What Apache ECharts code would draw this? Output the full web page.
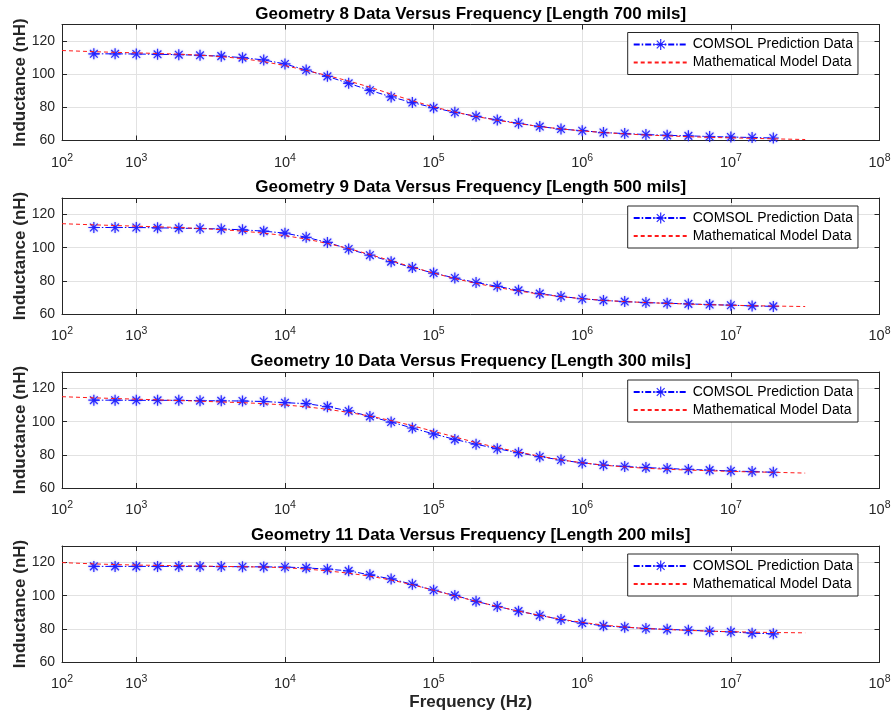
<!DOCTYPE html>
<html>
<head>
<meta charset="utf-8">
<script src="https://cdn.jsdelivr.net/npm/echarts@6/dist/echarts.min.js"></script>
<style>
  html, body { margin: 0; padding: 0; background: #ffffff; }
  #chart { width: 895px; height: 717px; }
</style>
</head>
<body>
<div id="chart"></div>
<script>
// Panel titles (one per geometry)
const panelTitles = [
  'Geometry 8 Data Versus Frequency [Length 700 mils]',
  'Geometry 9 Data Versus Frequency [Length 500 mils]',
  'Geometry 10 Data Versus Frequency [Length 300 mils]',
  'Geometry 11 Data Versus Frequency [Length 200 mils]'
];
const legendNames = ['COMSOL Prediction Data', 'Mathematical Model Data'];

// Simulated frequencies (Hz), seven points per decade
const freqHz = [
  517.9, 719.7, 1000, 1389.5, 1930.7, 2682.7, 3727.6, 5179.5, 7196.9,
  10000, 13895, 19307, 26827, 37276, 51795, 71969,
  100000, 138950, 193070, 268270, 372760, 517950, 719690,
  1000000, 1389500, 1930700, 2682700, 3727600, 5179500, 7196900,
  10000000, 13895000, 19307000
];
// Frequencies at which the analytical model is evaluated (Hz)
const modelFreqHz = [
  316.2,
  517.9, 719.7, 1000, 1389.5, 1930.7, 2682.7, 3727.6, 5179.5, 7196.9,
  10000, 13895, 19307, 26827, 37276, 51795, 71969,
  100000, 138950, 193070, 268270, 372760, 517950, 719690,
  1000000, 1389500, 1930700, 2682700, 3727600, 5179500, 7196900,
  10000000, 13895000, 19307000,
  31623000
];

// Inductance (nH) - COMSOL prediction
const comsolG8 = [112.3,112.3,112.2,112.0,111.8,111.4,110.9,110.0,108.6,106.2,102.5,98.7,94.5,90.3,86.3,82.9,79.8,77.0,74.6,72.4,70.4,68.4,66.9,65.9,64.8,64.2,63.6,63.1,62.8,62.4,62.1,61.8,61.5];
const comsolG9 = [112.2,112.2,112.2,112.0,111.8,111.6,111.3,110.8,110.0,108.8,106.3,103.2,99.2,95.5,91.6,88.0,84.7,81.7,79.0,76.7,74.3,72.3,70.6,69.2,68.2,67.5,66.9,66.5,66.1,65.7,65.3,64.9,64.6];
const comsolG10 = [113.0,113.0,112.9,112.9,112.9,112.7,112.6,112.5,112.2,111.5,110.9,109.1,106.5,103.2,99.8,96.2,92.6,89.3,86.4,83.7,81.3,78.9,76.9,75.1,73.8,73.0,72.3,71.8,71.2,70.8,70.3,69.9,69.5];
const comsolG11 = [117.7,117.7,117.7,117.7,117.7,117.7,117.6,117.5,117.4,117.3,116.8,116.0,115.0,112.6,110.1,106.9,103.3,100.2,96.6,93.5,90.7,88.1,85.6,83.5,81.8,81.0,80.2,79.7,79.2,78.6,78.2,77.4,77.0];

// Inductance (nH) - mathematical model
const modelG8 = [114.3,113.6,113.2,112.9,112.5,112.1,111.5,110.6,109.4,107.6,105.2,102.3,99.2,95.9,92.2,88.0,84.0,80.3,77.2,74.5,72.2,70.2,68.4,67.0,65.8,64.8,64.0,63.3,62.8,62.3,61.9,61.6,61.3,61.0,60.6];
const modelG9 = [114.5,113.8,113.4,113.0,112.6,112.2,111.6,110.9,110.0,108.8,107.3,105.2,102.6,99.5,95.9,92.1,88.3,84.7,81.4,78.5,76.0,73.9,72.0,70.5,69.2,68.2,67.5,66.9,66.4,66.0,65.6,65.3,65.0,64.8,64.5];
const modelG10 = [115.1,114.4,114.0,113.6,113.2,112.8,112.4,111.9,111.5,110.9,110.1,109.0,107.5,105.6,103.4,100.7,97.6,94.2,90.8,87.4,84.4,81.7,79.2,77.0,75.2,73.8,72.7,71.9,71.3,70.8,70.4,70.0,69.7,69.5,69.0];
const modelG11 = [120.0,119.2,118.8,118.5,118.3,118.1,117.9,117.7,117.5,117.3,116.9,116.1,115.0,113.6,111.8,109.5,106.6,103.3,99.9,96.6,93.5,90.7,88.1,85.8,83.9,82.3,81.1,80.2,79.6,79.1,78.6,78.3,78.0,77.8,77.6];

// Axis ranges and tick labels
const xMinHz = 316.2278;
const xMaxHz = 1e8;
const xTickExponents = [2, 3, 4, 5, 6, 7, 8];
const yMin = 60, yMax = 130, yStep = 20;

const comsolSets = [comsolG8, comsolG9, comsolG10, comsolG11];
const modelSets = [modelG8, modelG9, modelG10, modelG11];

// Layout
const gridLeft = 62, gridRight = 15.5, gridHeight = 116;
const gridTops = [24.5, 198, 372, 546];
const axisColor = '#262626';
const gridColor = '#e2e2e2';
const fontFamily = '"Liberation Sans", Arial, Helvetica, sans-serif';

// Asterisk marker (plus and cross) built from thin bars
const asteriskPath = 'path://M8.9 0H11.1V20H8.9Z M0 8.9H20V11.1H0Z ' +
  'M2.22 3.78L3.78 2.22L17.78 16.22L16.22 17.78Z M16.22 2.22L17.78 3.78L3.78 17.78L2.22 16.22Z';

const grids = [], xAxes = [], yAxes = [], series = [], titles = [], legends = [];
const plotCenterX = gridLeft + (895 - gridLeft - gridRight) / 2;

gridTops.forEach((top, i) => {
  grids.push({
    left: gridLeft, right: gridRight, top: top, height: gridHeight,
    containLabel: false, outerBoundsMode: 'none'
  });

  titles.push({
    text: panelTitles[i],
    left: plotCenterX, top: top - 19, textAlign: 'center', padding: 0,
    textStyle: { fontFamily, fontSize: 17, fontWeight: 'bold', color: '#000000' }
  });

  const isLast = i === gridTops.length - 1;
  // bottom log axis with labels
  xAxes.push({
    gridIndex: i, type: 'log', logBase: 10, min: xMinHz, max: xMaxHz, position: 'bottom',
    axisLine: { show: true, onZero: false, lineStyle: { color: axisColor, width: 1 } },
    axisTick: { show: true, inside: true, length: 5, lineStyle: { color: axisColor } },
    minorTick: { show: false },
    splitLine: { show: true, lineStyle: { color: gridColor, width: 1 } },
    axisLabel: {
      show: true, margin: 12, color: axisColor, fontFamily,
      formatter: (v, idx) => '{b|10}{s|' + xTickExponents[idx] + '}',
      rich: {
        b: { fontSize: 14.5, fontFamily, color: axisColor },
        s: { fontSize: 10.5, fontFamily, color: axisColor, padding: [0, 0, 9, 0] }
      }
    },
    name: isLast ? 'Frequency (Hz)' : '',
    nameLocation: 'middle', nameGap: 32, nameMoveOverlap: false,
    nameTextStyle: { fontFamily, fontSize: 17, fontWeight: 'bold', color: axisColor }
  });
  // top mirror axis (ticks only)
  xAxes.push({
    gridIndex: i, type: 'log', logBase: 10, min: xMinHz, max: xMaxHz, position: 'top',
    axisLine: { show: true, onZero: false, lineStyle: { color: axisColor, width: 1 } },
    axisTick: { show: true, inside: true, length: 5, lineStyle: { color: axisColor } },
    axisLabel: { show: false }, splitLine: { show: false }
  });
  // left value axis
  yAxes.push({
    gridIndex: i, type: 'value', min: yMin, max: yMax, interval: yStep, position: 'left',
    axisLine: { show: true, lineStyle: { color: axisColor, width: 1 } },
    axisTick: { show: true, inside: true, length: 5, lineStyle: { color: axisColor } },
    splitLine: { show: true, lineStyle: { color: gridColor, width: 1 } },
    axisLabel: { show: true, margin: 7, fontSize: 14, fontFamily, color: axisColor, showMaxLabel: false },
    name: 'Inductance (nH)', nameLocation: 'middle', nameGap: 33, nameMoveOverlap: false,
    nameTextStyle: { fontFamily, fontSize: 17, fontWeight: 'bold', color: axisColor }
  });
  // right mirror axis (ticks only)
  yAxes.push({
    gridIndex: i, type: 'value', min: yMin, max: yMax, interval: yStep, position: 'right',
    axisLine: { show: true, lineStyle: { color: axisColor, width: 1 } },
    axisTick: { show: true, inside: true, length: 5, lineStyle: { color: axisColor } },
    splitLine: { show: false }, axisLabel: { show: false }
  });

  series.push({
    name: legendNames[0], type: 'line',
    xAxisIndex: 2 * i, yAxisIndex: 2 * i,
    data: freqHz.map((f, k) => [f, comsolSets[i][k]]),
    symbol: asteriskPath, symbolSize: 11, showSymbol: true,
    lineStyle: { color: '#0000ff', width: 1, type: [6, 2, 1.5, 2] },
    itemStyle: { color: '#1a1aff', opacity: 0.9, shadowBlur: 2, shadowColor: 'rgba(60,60,255,0.6)' },
    emphasis: { disabled: true }, z: 2
  });
  series.push({
    name: legendNames[1], type: 'line',
    xAxisIndex: 2 * i, yAxisIndex: 2 * i,
    data: modelFreqHz.map((f, k) => [f, modelSets[i][k]]),
    symbol: 'none', showSymbol: false,
    lineStyle: { color: '#ff1a1a', width: 1, type: [4, 3] },
    itemStyle: { color: '#ff1a1a' },
    emphasis: { disabled: true }, z: 3
  });

  legends.push({
    data: [
      { name: legendNames[0] },
      { name: legendNames[1], itemStyle: { opacity: 0 } }
    ],
    orient: 'vertical',
    left: 627.7, top: top + 8,
    padding: [5, 5, 5, 5],
    itemWidth: 54, itemHeight: 14, itemGap: 4,
    backgroundColor: '#ffffff',
    borderColor: axisColor, borderWidth: 1, borderRadius: 0,
    selectedMode: false,
    textStyle: { fontFamily, fontSize: 14, color: '#000000', padding: [0, 0, 0, 0] }
  });
});

const chart = echarts.init(document.getElementById('chart'), null, { renderer: 'canvas' });
chart.setOption({
  animation: false,
  backgroundColor: '#ffffff',
  title: titles,
  legend: legends,
  grid: grids,
  xAxis: xAxes,
  yAxis: yAxes,
  series: series
});
</script>
</body>
</html>
